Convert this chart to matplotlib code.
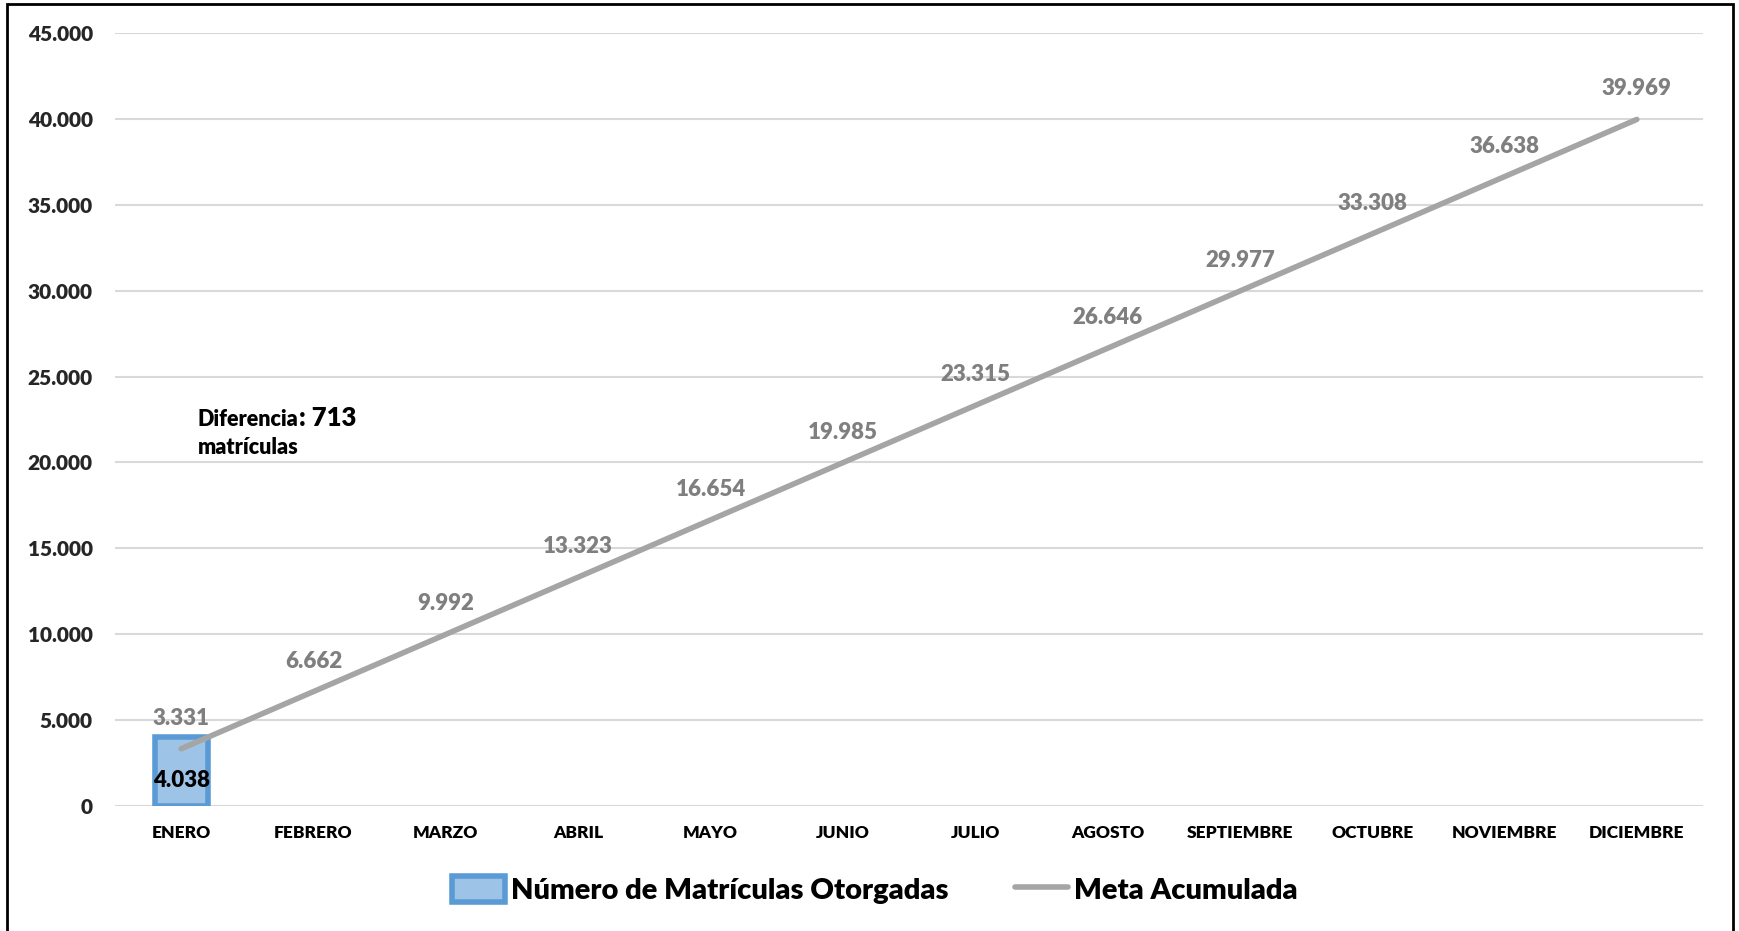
import matplotlib.pyplot as plt
from matplotlib.patches import Rectangle
import numpy as np

plt.rcParams['font.family'] = ['Lato', 'DejaVu Sans']

# data
meses = ['ENERO', 'FEBRERO', 'MARZO', 'ABRIL', 'MAYO', 'JUNIO', 'JULIO',
         'AGOSTO', 'SEPTIEMBRE', 'OCTUBRE', 'NOVIEMBRE', 'DICIEMBRE']
matriculas = [4038]
meta = [3331, 6662, 9992, 13323, 16654, 19985, 23315, 26646, 29977, 33308, 36638, 39969]
diferencia = 713

W = 800  # Lato ExtraBold, close to Calibri bold


def fmt(v):
    return f"{v:,.0f}".replace(',', '.')


fig = plt.figure(figsize=(17.39, 9.31), dpi=100)
ax = fig.add_axes([115 / 1739, 1 - 806 / 931, 1588 / 1739, 773 / 931])

x = np.arange(len(meses))
bars = ax.bar(x[:len(matriculas)], matriculas, width=0.4, color='#9DC3E6',
              edgecolor='#5B9BD5', linewidth=4, zorder=2,
              label='Número de Matrículas Otorgadas')
for xi, v in zip(x, matriculas):
    ax.text(xi, 1500, fmt(v), ha='center', va='center', fontsize=16,
            fontweight=W, color='black', zorder=4)

line, = ax.plot(x, meta, color='#A5A5A5', linewidth=4, solid_capstyle='round',
                zorder=3, label='Meta Acumulada')
for xi, v in zip(x, meta):
    ax.annotate(fmt(v), (xi, v), xytext=(0, 22), textcoords='offset points',
                ha='center', va='center', fontsize=16, fontweight=W,
                color='#7F7F7F')

t = ax.text(0.127, 22150, 'Diferencia', fontsize=15.5, fontweight=W,
            ha='left', va='baseline')
ax.annotate(f': {diferencia}', xy=(1, 0), xycoords=t, xytext=(0, 0),
            textcoords='offset points', fontsize=18.5, fontweight=W,
            ha='left', va='bottom')
ax.text(0.127, 20465, 'matrículas', fontsize=15.5, fontweight=W,
        ha='left', va='baseline')

ax.set_xlim(-0.5, len(meses) - 0.5)
ax.set_ylim(0, 45000)
ax.set_yticks(np.arange(0, 45001, 5000))
ax.set_yticklabels([fmt(v) for v in np.arange(0, 45001, 5000)],
                   fontsize=15, fontweight=W, color='#262626')
ax.set_xticks(x)
ax.set_xticklabels(meses, fontsize=12.5, fontweight=W, color='black')
ax.tick_params(axis='both', length=0)
ax.tick_params(axis='y', pad=16)
ax.tick_params(axis='x', pad=14)
ax.grid(axis='y', color='#D9D9D9', linewidth=1.5, zorder=0)
ax.set_axisbelow(True)
for s in ax.spines.values():
    s.set_visible(False)

fig.legend(handles=[bars, line], loc='center', bbox_to_anchor=(0.503, 1 - 890 / 931),
           ncol=2, frameon=False, prop={'size': 21, 'weight': W},
           handlelength=1.8, handleheight=1.0, columnspacing=2.3,
           handletextpad=0.2)

fig.patches.append(Rectangle((7 / 1739, -0.01), 1726 / 1739, 1 - 4 / 931 + 0.01,
                             transform=fig.transFigure, fill=False,
                             edgecolor='black', linewidth=2))

fig.savefig('out.png', dpi=100)
